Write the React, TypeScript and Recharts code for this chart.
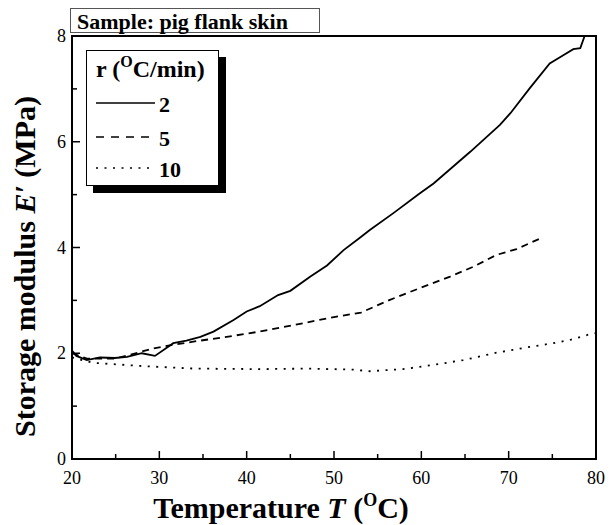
import React from "react";
import { LineChart, Line, XAxis, YAxis, Legend, Label } from "recharts";

// storage modulus E' (MPa) vs temperature T (°C), pig flank skin
const T_RATE_2 = [20, 20.5, 21.7, 23.2, 24.9, 26.3, 28.0, 29.5, 31.6, 33.1, 34.7, 36.2, 38.5, 40, 41.5, 43.6, 45, 47.3, 49.2, 51.1, 53, 54.1, 56.8, 59.8, 61.4, 65.6, 69, 70.2, 72.4, 74.7, 76.3, 77.4, 78.2, 78.7];
const E_RATE_2 = [2.05, 1.95, 1.87, 1.92, 1.91, 1.93, 2.0, 1.95, 2.19, 2.24, 2.31, 2.41, 2.63, 2.79, 2.89, 3.1, 3.18, 3.45, 3.66, 3.95, 4.19, 4.33, 4.65, 5.02, 5.21, 5.81, 6.32, 6.54, 7.01, 7.48, 7.64, 7.75, 7.77, 8.0];

const T_RATE_5 = [20, 21.7, 24.9, 26.6, 29.3, 31.6, 33.9, 37.7, 41.5, 45.3, 49.2, 53.1, 56.4, 59.8, 63.3, 66, 68.6, 70.9, 73.6];
const E_RATE_5 = [2.0, 1.9, 1.9, 1.97, 2.09, 2.16, 2.22, 2.31, 2.41, 2.53, 2.66, 2.77, 3.01, 3.23, 3.45, 3.64, 3.86, 3.97, 4.17];

const T_RATE_10 = [20, 22.4, 27.8, 33.9, 41.5, 47, 52.2, 54.1, 57.9, 61, 64.8, 68.6, 72.4, 75.1, 77, 79.1, 80];
const E_RATE_10 = [1.92, 1.82, 1.76, 1.71, 1.7, 1.71, 1.69, 1.66, 1.7, 1.77, 1.87, 2.01, 2.12, 2.19, 2.25, 2.35, 2.38];

const X_TICKS = [20, 25, 30, 35, 40, 45, 50, 55, 60, 65, 70, 75, 80];
const Y_TICKS = [0, 1, 2, 3, 4, 5, 6, 7, 8];

const FONT = "'Liberation Serif', 'Times New Roman', serif";

const toPoints = (temps: number[], moduli: number[]) =>
  temps.map((t, i) => ({ t, e: moduli[i] }));

// the 10 °C/min curve sits on the top/right axes so those get drawn too (same domains)
const SERIES = [
  { name: "2", data: toPoints(T_RATE_2, E_RATE_2), dash: undefined as string | undefined, legendDash: undefined as string | undefined, xId: "bottom", yId: "left" },
  { name: "5", data: toPoints(T_RATE_5, E_RATE_5), dash: "7 5", legendDash: "8 7", xId: "bottom", yId: "left" },
  { name: "10", data: toPoints(T_RATE_10, E_RATE_10), dash: "2 6.5", legendDash: "2 6.5", xId: "top", yId: "right" },
];

const isMajorX = (v: number) => v % 10 === 0;
const isMajorY = (v: number) => v % 2 === 0;

function BottomTick(props: any) {
  const { x, y, payload } = props;
  const major = isMajorX(payload.value);
  return (
    <g>
      <path d={`M${x},${y}V${y - (major ? 8 : 5)}`} stroke="#000" strokeWidth={1.5} fill="none" />
      {major && (
        <text x={x} y={y + 25} textAnchor="middle" fontSize={18} fontFamily={FONT} fill="#000">
          {payload.value}
        </text>
      )}
    </g>
  );
}

function TopTick(props: any) {
  const { x, y, payload } = props;
  const major = isMajorX(payload.value);
  return <path d={`M${x},${y}V${y + (major ? 8 : 5)}`} stroke="#000" strokeWidth={1.5} fill="none" />;
}

function LeftTick(props: any) {
  const { x, y, payload } = props;
  const major = isMajorY(payload.value);
  return (
    <g>
      <path d={`M${x},${y}H${x + (major ? 8 : 5)}`} stroke="#000" strokeWidth={1.5} fill="none" />
      {major && (
        <text x={x - 6} y={y + 6} textAnchor="end" fontSize={18} fontFamily={FONT} fill="#000">
          {payload.value}
        </text>
      )}
    </g>
  );
}

function RightTick(props: any) {
  const { x, y, payload } = props;
  const major = isMajorY(payload.value);
  return <path d={`M${x},${y}H${x - (major ? 8 : 5)}`} stroke="#000" strokeWidth={1.5} fill="none" />;
}

function XTitle(props: any) {
  const { viewBox } = props;
  const cx = viewBox.x + viewBox.width / 2 - 53;
  return (
    <text x={cx} y={viewBox.y + 59} textAnchor="middle" fontSize={30} fontWeight="bold" fontFamily={FONT} fill="#000">
      Temperature <tspan fontStyle="italic">T</tspan> (<tspan fontSize={18} dy={-12}>O</tspan>
      <tspan dy={12}>C)</tspan>
    </text>
  );
}

function YTitle(props: any) {
  const { viewBox } = props;
  const cy = viewBox.y + viewBox.height / 2 + 19;
  return (
    <text
      x={35}
      y={cy}
      transform={`rotate(-90, 35, ${cy})`}
      textAnchor="middle"
      fontSize={30}
      fontWeight="bold"
      fontFamily={FONT}
      fill="#000"
    >
      Storage modulus <tspan fontStyle="italic">E′</tspan> (MPa)
    </text>
  );
}

function RateLegend() {
  const rows = [53, 87, 118];
  return (
    <svg width={142} height={145} style={{ display: "block" }}>
      <rect x={7} y={7} width={133} height={136} fill="#000" />
      <rect x={0.5} y={0.5} width={132} height={135} fill="#fff" stroke="#000" strokeWidth={1} />
      <text x={10} y={27} fontSize={24} fontWeight="bold" fontFamily={FONT} fill="#000">
        r (<tspan fontSize={16} dy={-10}>O</tspan>
        <tspan dy={10}>C/min)</tspan>
      </text>
      {SERIES.map((s, i) => (
        <g key={s.name}>
          <line x1={10} x2={69} y1={rows[i]} y2={rows[i]} stroke="#000" strokeWidth={1.5} strokeDasharray={s.legendDash} />
          <text x={73} y={rows[i] + 9} fontSize={22} fontWeight="bold" fontFamily={FONT} fill="#000">
            {s.name}
          </text>
        </g>
      ))}
    </svg>
  );
}

export default function App() {
  return (
    <div style={{ position: "absolute", left: 0, top: 0, width: 609, height: 525 }}>
      <div style={{ position: "relative", width: 609, height: 525 }}>
        <LineChart width={609} height={525} margin={{ top: 36, right: 13, left: 0, bottom: 0 }}>
          <XAxis
            xAxisId="bottom"
            dataKey="t"
            type="number"
            domain={[20, 80]}
            ticks={X_TICKS}
            interval={0}
            allowDataOverflow
            height={66}
            tickSize={0}
            tickMargin={0}
            tickLine={false}
            axisLine={{ stroke: "#000", strokeWidth: 2 }}
            tick={(p: any) => <BottomTick {...p} />}
          >
            <Label content={(p: any) => <XTitle {...p} />} />
          </XAxis>
          <XAxis
            xAxisId="top"
            orientation="top"
            dataKey="t"
            type="number"
            domain={[20, 80]}
            ticks={X_TICKS}
            interval={0}
            allowDataOverflow
            height={0}
            tickSize={0}
            tickMargin={0}
            tickLine={false}
            axisLine={{ stroke: "#000", strokeWidth: 2 }}
            tick={(p: any) => <TopTick {...p} />}
          />
          <YAxis
            yAxisId="left"
            type="number"
            domain={[0, 8]}
            ticks={Y_TICKS}
            interval={0}
            allowDataOverflow
            width={72}
            tickSize={0}
            tickMargin={0}
            tickLine={false}
            axisLine={{ stroke: "#000", strokeWidth: 2 }}
            tick={(p: any) => <LeftTick {...p} />}
          >
            <Label content={(p: any) => <YTitle {...p} />} />
          </YAxis>
          <YAxis
            yAxisId="right"
            orientation="right"
            type="number"
            domain={[0, 8]}
            ticks={Y_TICKS}
            interval={0}
            allowDataOverflow
            width={0}
            tickSize={0}
            tickMargin={0}
            tickLine={false}
            axisLine={{ stroke: "#000", strokeWidth: 2 }}
            tick={(p: any) => <RightTick {...p} />}
          />
          <Legend
            layout="vertical"
            align="center"
            verticalAlign="middle"
            wrapperStyle={{ position: "absolute", left: 86, top: 50, width: 142, height: 145 }}
            content={() => <RateLegend />}
          />
          {SERIES.map((s) => (
            <Line
              key={s.name}
              name={s.name}
              xAxisId={s.xId}
              yAxisId={s.yId}
              data={s.data}
              dataKey="e"
              type="linear"
              stroke="#000"
              strokeWidth={1.8}
              strokeDasharray={s.dash}
              dot={false}
              activeDot={false}
              isAnimationActive={false}
            />
          ))}
        </LineChart>
        {/* plot frame, drawn over the chart */}
        <div
          style={{
            position: "absolute",
            left: 71,
            top: 35,
            width: 526,
            height: 425,
            border: "2px solid #000",
            boxSizing: "border-box",
            pointerEvents: "none",
            zIndex: 10,
          }}
        />
        <div
          style={{
            position: "absolute",
            left: 70,
            top: 8,
            width: 250,
            height: 25,
            border: "1px solid #555",
            background: "#fff",
            fontFamily: FONT,
            fontWeight: "bold",
            fontSize: 22,
            lineHeight: "26px",
            paddingLeft: 6,
            boxSizing: "border-box",
            whiteSpace: "nowrap",
            zIndex: 11,
          }}
        >
          Sample: pig flank skin
        </div>
      </div>
    </div>
  );
}
